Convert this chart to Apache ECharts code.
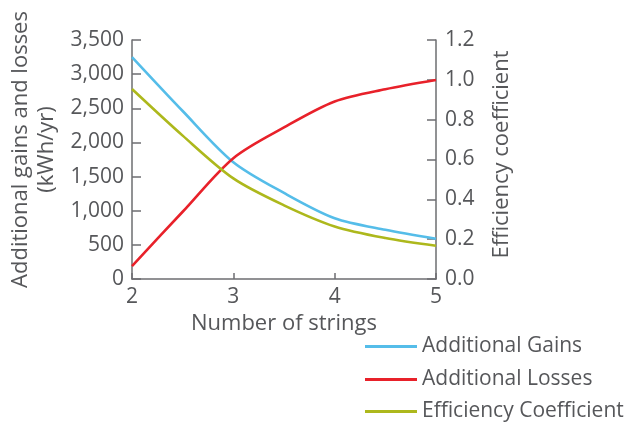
<!DOCTYPE html>
<html>
<head>
<meta charset="utf-8">
<script src="https://cdn.jsdelivr.net/npm/echarts@6/dist/echarts.min.js"></script>
<style>
html,body{margin:0;padding:0;background:#fff;}
#c{width:632px;height:423px;}
</style>
</head>
<body>
<div id="c"></div>
<script>
var strings = [2, 2.5, 3, 3.5, 4, 4.5, 5];
var gains = [3250, 2460, 1710, 1260, 890, 720, 590];
var losses = [190, 985, 1770, 2220, 2600, 2780, 2915];
var efficiency = [0.954, 0.72, 0.505, 0.37, 0.264, 0.206, 0.167];
var xTicks = [2, 3, 4, 5];
var seriesNames = ['Additional Gains', 'Additional Losses', 'Efficiency Coefficient'];
var seriesColors = ['#55bde9', '#e8212a', '#adb81c'];

function pairs(xs, ys) { return xs.map(function (x, i) { return [x, ys[i]]; }); }

var FONT = 'Open Sans';
var TXT = '#56575a';
var AX = '#6d6e71';
var FS = 21;
var FN = 22;

var legendTops = [336, 369, 401];
var legends = seriesNames.map(function (n, i) {
  return {
    orient: 'vertical', left: 365, top: legendTops[i], padding: 0,
    itemWidth: 52, itemHeight: 3, icon: 'rect',
    textStyle: { fontFamily: FONT, fontSize: FS, color: TXT, lineHeight: 20 },
    data: [n]
  };
});

var chart = echarts.init(document.getElementById('c'), null, { renderer: 'canvas' });
chart.setOption({
  animation: false,
  backgroundColor: '#fff',
  textStyle: { fontFamily: FONT },
  grid: { left: 132, right: 196, top: 40, bottom: 144, containLabel: false, outerBoundsMode: 'none' },
  legend: legends,
  xAxis: {
    type: 'value',
    min: 2, max: 5, interval: 1,
    name: 'Number of strings',
    nameLocation: 'middle',
    nameGap: 34,
    nameTextStyle: { fontFamily: FONT, fontSize: FN, color: TXT },
    axisLine: { lineStyle: { color: AX, width: 1.5 } },
    axisTick: { inside: true, length: 6, lineStyle: { color: AX, width: 1.5 } },
    axisLabel: { fontFamily: FONT, fontSize: FS, color: TXT, margin: 8,
      formatter: function (v) { return xTicks.indexOf(v) >= 0 ? String(v) : ''; } },
    splitLine: { show: false }
  },
  yAxis: [{
    type: 'value',
    min: 0, max: 3500, interval: 500,
    name: 'Additional gains and losses\n(kWh/yr)',
    nameLocation: 'middle',
    nameRotate: 90,
    nameGap: 72,
    nameTextStyle: { fontFamily: FONT, fontSize: FN, color: TXT, lineHeight: 26, padding: [0, 0, 0, 20] },
    axisLine: { show: true, lineStyle: { color: AX, width: 1.5 } },
    axisTick: { show: true, inside: true, length: 9, lineStyle: { color: AX, width: 1.5 } },
    axisLabel: { fontFamily: FONT, fontSize: FS, color: TXT, margin: 8,
      formatter: function (v) { return v.toLocaleString('en-US'); } },
    splitLine: { show: false }
  }, {
    type: 'value',
    min: 0, max: 1.2, interval: 0.2,
    name: 'Efficiency coefficient',
    nameLocation: 'middle',
    nameRotate: 90,
    nameGap: 55,
    nameTextStyle: { fontFamily: FONT, fontSize: FN, color: TXT, padding: [0, 0, 0, 10] },
    axisLine: { show: true, lineStyle: { color: AX, width: 1.5 } },
    axisTick: { show: true, inside: true, length: 9, lineStyle: { color: AX, width: 1.5 } },
    axisLabel: { fontFamily: FONT, fontSize: FS, color: TXT, margin: 9,
      formatter: function (v) { return v.toFixed(1); } },
    splitLine: { show: false }
  }],
  series: [{
    name: seriesNames[0], type: 'line', yAxisIndex: 0, smooth: 0.3, showSymbol: false,
    lineStyle: { width: 2.6, color: seriesColors[0] }, itemStyle: { color: seriesColors[0] },
    data: pairs(strings, gains)
  }, {
    name: seriesNames[1], type: 'line', yAxisIndex: 0, smooth: 0.3, showSymbol: false,
    lineStyle: { width: 2.6, color: seriesColors[1] }, itemStyle: { color: seriesColors[1] },
    data: pairs(strings, losses)
  }, {
    name: seriesNames[2], type: 'line', yAxisIndex: 1, smooth: 0.3, showSymbol: false,
    lineStyle: { width: 2.6, color: seriesColors[2] }, itemStyle: { color: seriesColors[2] },
    data: pairs(strings, efficiency)
  }]
});
</script>
</body>
</html>
